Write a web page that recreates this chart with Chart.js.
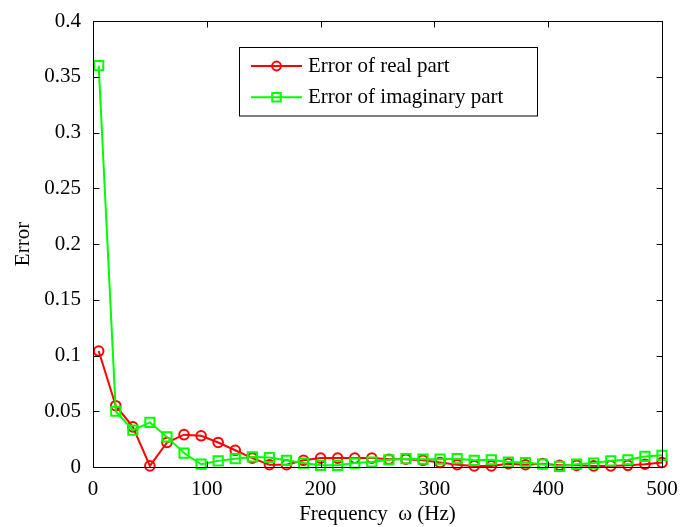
<!DOCTYPE html>
<html>
<head>
<meta charset="utf-8">
<script src="https://cdn.jsdelivr.net/npm/chart.js@4.4.0/dist/chart.umd.min.js"></script>
<style>
  html, body { margin: 0; padding: 0; background: #ffffff; }
  #c { display: block; }
</style>
</head>
<body>
<canvas id="c" width="681" height="527"></canvas>
<script>
// ---- data ----
const frequencies = [5, 20, 35, 50, 65, 80, 95, 110, 125, 140, 155, 170, 185, 200, 215, 230, 245,
                     260, 275, 290, 305, 320, 335, 350, 365, 380, 395, 410, 425, 440, 455, 470, 485, 500];
const realError = [0.104, 0.055, 0.036, 0.001, 0.022, 0.029, 0.028, 0.022, 0.015, 0.008, 0.002, 0.002,
                   0.006, 0.008, 0.008, 0.008, 0.008, 0.007, 0.007, 0.006, 0.004, 0.002, 0.001, 0.001,
                   0.003, 0.002, 0.003, 0.0015, 0.0015, 0.001, 0.001, 0.0015, 0.0025, 0.004];
const imagError = [0.360, 0.050, 0.033, 0.040, 0.027, 0.0125, 0.0025, 0.0055, 0.0075, 0.009, 0.0085, 0.006,
                   0.0035, 0.0015, 0.0015, 0.0035, 0.0045, 0.0065, 0.0075, 0.007, 0.007, 0.0075, 0.006, 0.0065,
                   0.0045, 0.004, 0.0025, 0.0006, 0.0025, 0.0035, 0.0055, 0.0065, 0.0095, 0.0105];
const seriesNames = ['Error of real part', 'Error of imaginary part'];
const xTickValues = [0, 100, 200, 300, 400, 500];
const xTickLabels = ['0', '100', '200', '300', '400', '500'];
const yTickValues = [0, 0.05, 0.1, 0.15, 0.2, 0.25, 0.3, 0.35, 0.4];
const yTickLabels = ['0', '0.05', '0.1', '0.15', '0.2', '0.25', '0.3', '0.35', '0.4'];
const xTitle = 'Frequency  \u03c9 (Hz)';
const yTitle = 'Error';

const FONT = 'Liberation Serif';

function toPoints(xs, ys) { return xs.map((x, i) => ({ x: x, y: ys[i] })); }

function labelFor(values, labels, v) {
  for (let i = 0; i < values.length; i++) if (Math.abs(values[i] - v) < 1e-9) return labels[i];
  return '';
}

// Frame + inward ticks (MATLAB style box)
const framePlugin = {
  id: 'frame',
  afterDatasetsDraw(chart) {
    const { ctx, chartArea: a, scales } = chart;
    const L = Math.round(a.left) + 0.5, R = Math.round(a.right) + 0.5;
    const T = Math.round(a.top) + 0.5, B = Math.round(a.bottom) + 0.5;
    ctx.save();
    ctx.strokeStyle = '#000';
    ctx.lineWidth = 1;
    ctx.beginPath();
    ctx.rect(L, T, R - L, B - T);
    const tl = 6;
    xTickValues.forEach(v => {
      const px = Math.round(scales.x.getPixelForValue(v)) + 0.5;
      ctx.moveTo(px, B); ctx.lineTo(px, B - tl);
      ctx.moveTo(px, T); ctx.lineTo(px, T + tl);
    });
    yTickValues.forEach(v => {
      const py = Math.round(scales.y.getPixelForValue(v)) + 0.5;
      ctx.moveTo(L, py); ctx.lineTo(L + tl, py);
      ctx.moveTo(R, py); ctx.lineTo(R - tl, py);
    });
    ctx.stroke();
    ctx.restore();
  }
};

// Boxed legend in the upper middle of the plot
const legendPlugin = {
  id: 'boxLegend',
  afterDraw(chart) {
    const { ctx } = chart;
    const bx = 239.5, by = 47.5, bw = 298, bh = 68.5;
    ctx.save();
    ctx.fillStyle = '#fff';
    ctx.fillRect(bx, by, bw, bh);
    ctx.strokeStyle = '#000';
    ctx.lineWidth = 1;
    ctx.strokeRect(bx, by, bw, bh);
    chart.data.datasets.forEach((ds, i) => {
      const y = 66 + i * 31.3;
      ctx.strokeStyle = ds.borderColor;
      ctx.lineWidth = 2;
      ctx.beginPath();
      ctx.moveTo(251, y); ctx.lineTo(302, y);
      ctx.stroke();
      ctx.fillStyle = 'rgba(0,0,0,0)';
      ctx.strokeStyle = ds.borderColor;
      Chart.helpers.drawPoint(ctx, {
        pointStyle: ds.pointStyle, radius: ds.pointStyle === 'rect' ? 6 : 4.4,
        borderWidth: 2, rotation: 0
      }, 276.5, y);
      ctx.fillStyle = '#000';
      ctx.font = '21px "' + FONT + '"';
      ctx.textBaseline = 'middle';
      ctx.textAlign = 'left';
      ctx.fillText(ds.label, 308, y);
    });
    ctx.restore();
  }
};

new Chart(document.getElementById('c'), {
  type: 'line',
  data: {
    datasets: [
      {
        label: seriesNames[0],
        data: toPoints(frequencies, realError),
        borderColor: '#ff0000',
        backgroundColor: 'rgba(0,0,0,0)',
        borderWidth: 2,
        pointStyle: 'circle',
        pointRadius: 4.8,
        pointBorderWidth: 2,
        pointBackgroundColor: 'rgba(0,0,0,0)',
        pointBorderColor: '#ff0000',
        tension: 0,
        clip: false,
        order: 1
      },
      {
        label: seriesNames[1],
        data: toPoints(frequencies, imagError),
        borderColor: '#00ff00',
        backgroundColor: 'rgba(0,0,0,0)',
        borderWidth: 2,
        pointStyle: 'rect',
        pointRadius: 6.5,
        pointBorderWidth: 2,
        pointBackgroundColor: 'rgba(0,0,0,0)',
        pointBorderColor: '#00ff00',
        tension: 0,
        clip: false,
        order: 0
      }
    ]
  },
  options: {
    responsive: false,
    animation: false,
    devicePixelRatio: 1,
    layout: { padding: { top: 21, right: 19, bottom: 0, left: 0 } },
    plugins: {
      legend: { display: false },
      tooltip: { enabled: false }
    },
    scales: {
      x: {
        type: 'linear',
        min: 0, max: 500,
        afterFit(s) { s.height = 60; s.paddingLeft = 0; s.paddingRight = 0; },
        afterBuildTicks(s) { s.ticks = xTickValues.map(v => ({ value: v })); },
        grid: { display: false },
        border: { display: false },
        ticks: {
          padding: 2,
          color: '#000',
          font: { family: FONT, size: 21 },
          maxRotation: 0,
          callback: v => labelFor(xTickValues, xTickLabels, v)
        },
        title: {
          display: true,
          text: xTitle,
          color: '#000',
          font: { family: FONT, size: 21 },
          padding: { top: 0, bottom: 0 }
        }
      },
      y: {
        type: 'linear',
        min: 0, max: 0.4,
        afterFit(s) { s.width = 93; s.paddingTop = 0; s.paddingBottom = 0; },
        afterBuildTicks(s) { s.ticks = yTickValues.map(v => ({ value: v })); },
        grid: { display: false },
        border: { display: false },
        ticks: {
          padding: 4,
          color: '#000',
          font: { family: FONT, size: 21 },
          callback: v => labelFor(yTickValues, yTickLabels, v)
        },
        title: {
          display: true,
          text: yTitle,
          color: '#000',
          font: { family: FONT, size: 21 },
          padding: { top: 11, bottom: 0 }
        }
      }
    }
  },
  plugins: [framePlugin, legendPlugin]
});
</script>
</body>
</html>
